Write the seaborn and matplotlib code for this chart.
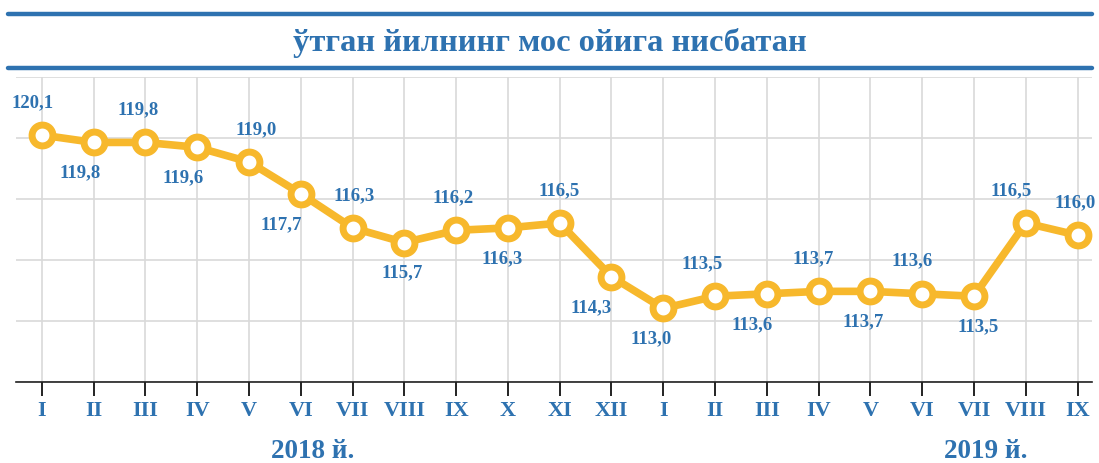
import matplotlib.pyplot as plt
import matplotlib.lines as mlines
import pandas as pd
import seaborn as sns

# данные
months = ["I", "II", "III", "IV", "V", "VI", "VII", "VIII", "IX", "X", "XI", "XII",
          "I", "II", "III", "IV", "V", "VI", "VII", "VIII", "IX"]
values = [120.1, 119.8, 119.8, 119.6, 119.0, 117.7, 116.3, 115.7, 116.2, 116.3, 116.5, 114.3,
          113.0, 113.5, 113.6, 113.7, 113.7, 113.6, 113.5, 116.5, 116.0]
label_side = ["up", "down", "up", "down", "up", "down", "up", "down", "up", "down", "up", "down",
              "down", "up", "down", "up", "down", "up", "down", "up", "up"]
# сдвиг подписей по горизонтали, px
label_dx = [-9, -14, -7, -14, 7, -20, 2, -2, -3, -6, -1, -20,
            -12, -13, -15, -5, -7, -10, 4, -15, -2]
years = ["2018 й.", "2019 й."]
title = "ўтган йилнинг мос ойига нисбатан"

blue = "#2E72B0"
yellow = "#F7B82C"

sns.set_style("white")
plt.rcParams['font.family'] = ['Liberation Serif', 'DejaVu Serif']

df = pd.DataFrame({"idx": range(len(values)), "value": values})

fig = plt.figure(figsize=(10.99, 4.63), dpi=100)
ax = fig.add_axes([16 / 1099, 1 - 381.7 / 463, (1092 - 16) / 1099, (381.7 - 76.5) / 463])

sns.lineplot(data=df, x="idx", y="value", ax=ax, color=yellow, linewidth=5.5,
             marker="o", markersize=15, markerfacecolor="white",
             markeredgecolor=yellow, markeredgewidth=5, zorder=3)

ax.set_xlim(-0.5, 20.28)
ax.set_ylim(110, 122.5)
ax.set_yticks([110, 112.5, 115, 117.5, 120, 122.5])
ax.set_yticklabels([])
ax.set_xticks(range(len(months)))
ax.set_xticklabels(months, color=blue, fontweight="bold", fontsize=16)
ax.grid(True, color="#d9d9d9", linewidth=1.2)
ax.set_axisbelow(True)
ax.set_xlabel("")
ax.set_ylabel("")
for s in ["top", "right", "left"]:
    ax.spines[s].set_visible(False)
ax.spines["bottom"].set_color("#222222")
ax.spines["bottom"].set_linewidth(1.2)
ax.tick_params(axis="x", bottom=True, direction="out", length=10, width=1.4,
               color="#222222", pad=4)
ax.tick_params(axis="y", left=False, length=0)

for i, (v, side, dx) in enumerate(zip(values, label_side, label_dx)):
    off = 23.5 if side == "up" else -22
    ax.annotate(f"{v:.1f}".replace(".", ","), (i, v), xytext=(dx * 0.72, off),
                textcoords="offset points", ha="center", va="center",
                color=blue, fontweight="bold", fontsize=13.5)

# заголовок и линии
fig.text(0.5, 1 - 43 / 463, title, ha="center", va="center", color=blue,
         fontweight="bold", fontsize=23.4)
for yy in [14, 68]:
    fig.add_artist(mlines.Line2D([8 / 1099, 1092 / 1099], [1 - yy / 463, 1 - yy / 463],
                                 color=blue, linewidth=3.2))

fig.text(313 / 1099, 1 - 452 / 463, years[0], ha="center", va="center", color=blue,
         fontweight="bold", fontsize=19.5)
fig.text(986 / 1099, 1 - 452 / 463, years[1], ha="center", va="center", color=blue,
         fontweight="bold", fontsize=19.5)

fig.savefig("out.png", dpi=100)
